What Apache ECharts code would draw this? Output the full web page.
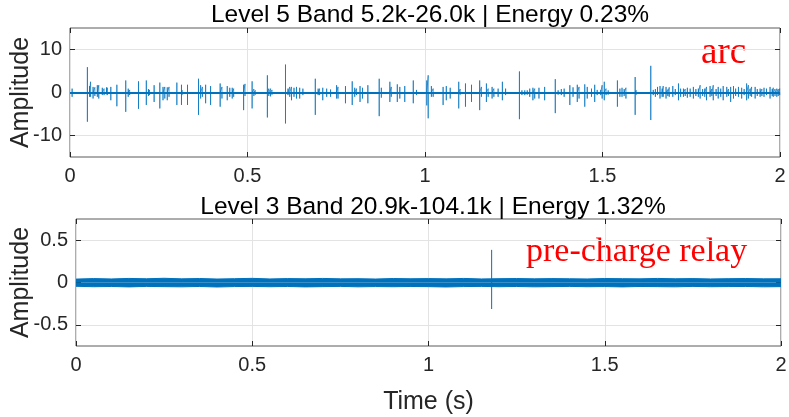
<!DOCTYPE html>
<html>
<head>
<meta charset="utf-8">
<style>
  html, body { margin: 0; padding: 0; background: #ffffff; }
  #chart { width: 789px; height: 417px; }
</style>
<script src="https://cdn.jsdelivr.net/npm/echarts@6/dist/echarts.min.js"></script>
</head>
<body>
<div id="chart"></div>
<script>
// top panel: level 5 spikes (time in s, max and min amplitude of each burst)
const spikeT = [0.006, 0.049, 0.055, 0.058, 0.065, 0.070, 0.077, 0.081, 0.091, 0.096,
  0.103, 0.105, 0.115, 0.132, 0.157, 0.164, 0.168, 0.193, 0.215, 0.221,
  0.224, 0.237, 0.253, 0.262, 0.267, 0.274, 0.279, 0.301, 0.314, 0.316,
  0.331, 0.362, 0.368, 0.373, 0.382, 0.396, 0.423, 0.428, 0.443, 0.450,
  0.457, 0.461, 0.489, 0.493, 0.513, 0.518, 0.522, 0.556, 0.560, 0.565,
  0.569, 0.607, 0.614, 0.619, 0.624, 0.631, 0.638, 0.647, 0.656, 0.691,
  0.699, 0.703, 0.712, 0.723, 0.734, 0.751, 0.755, 0.776, 0.795, 0.802,
  0.807, 0.817, 0.824, 0.839, 0.871, 0.877, 0.901, 0.905, 0.922, 0.929,
  0.943, 0.967, 0.976, 1.005, 1.009, 1.018, 1.023, 1.051, 1.060, 1.071,
  1.095, 1.099, 1.114, 1.131, 1.154, 1.159, 1.173, 1.178, 1.189, 1.194,
  1.206, 1.218, 1.227, 1.266, 1.273, 1.281, 1.288, 1.295, 1.304, 1.309,
  1.321, 1.337, 1.367, 1.375, 1.384, 1.392, 1.408, 1.417, 1.429, 1.434,
  1.450, 1.457, 1.469, 1.478, 1.485, 1.495, 1.499, 1.505, 1.510, 1.516,
  1.542, 1.549, 1.555, 1.561, 1.566, 1.592, 1.595, 1.636, 1.643, 1.649,
  1.655, 1.662, 1.668, 1.671, 1.679, 1.684, 1.688, 1.698, 1.705, 1.714,
  1.720, 1.728, 1.733, 1.739, 1.747, 1.756, 1.763, 1.770, 1.775, 1.782,
  1.788, 1.793, 1.803, 1.808, 1.812, 1.820, 1.826, 1.833, 1.840, 1.850,
  1.855, 1.861, 1.869, 1.875, 1.883, 1.892, 1.899, 1.906, 1.911, 1.916,
  1.920, 1.930, 1.936, 1.944, 1.949, 1.955, 1.962, 1.972, 1.978, 1.981,
  1.986, 1.991, 1.995, 1.999];
const spikeHi = [0.9, 5.9, 1.5, 2.5, 1.3, 1.2, 1.7, 1.7, 1.1, 0.9,
  1.2, 1.1, 1.3, 1.8, 2.8, 0.9, 0.6, 2.6, 2.8, 0.8,
  0.6, 1.7, 2.3, 1.3, 1.3, 1.2, 1.3, 2.3, 1.8, 0.5,
  1.8, 3.2, 1.7, 1.3, 1.8, 1.5, 2.1, 1.3, 1.5, 1.1,
  1.1, 0.9, 1.8, 2.0, 2.6, 0.8, 0.5, 4.0, 0.9, 0.9,
  0.6, 6.5, 0.9, 1.3, 1.3, 1.1, 1.3, 1.1, 0.9, 3.2,
  0.9, 0.9, 1.1, 0.9, 0.7, 1.7, 1.3, 1.5, 2.6, 1.1,
  0.9, 1.5, 1.1, 1.7, 3.2, 1.1, 2.5, 1.3, 1.9, 1.3,
  1.5, 2.8, 0.6, 2.8, 4.0, 1.5, 0.9, 1.3, 1.5, 1.1,
  2.5, 0.8, 2.1, 1.8, 2.8, 1.3, 2.1, 0.9, 1.3, 0.9,
  0.9, 2.5, 0.9, 4.9, 0.5, 0.5, 0.5, 0.9, 1.1, 0.9,
  1.1, 1.3, 3.1, 0.5, 0.8, 0.9, 1.7, 1.2, 1.8, 1.3,
  1.9, 1.3, 0.9, 1.8, 0.6, 0.6, 1.7, 2.5, 0.9, 0.5,
  2.8, 0.9, 1.1, 0.8, 1.1, 3.6, 0.5, 6.2, 0.6, 0.8,
  1.3, 1.5, 0.9, 1.5, 1.3, 0.7, 1.2, 1.5, 0.8, 2.1,
  0.9, 0.9, 0.8, 1.1, 0.9, 1.3, 0.8, 0.9, 1.7, 0.8,
  0.9, 1.3, 1.5, 0.8, 1.7, 0.8, 1.3, 0.9, 1.5, 1.3,
  0.8, 1.3, 1.5, 0.9, 1.3, 1.1, 0.8, 2.1, 1.7, 0.9,
  1.3, 1.3, 0.8, 0.9, 0.8, 1.1, 0.9, 1.3, 0.8, 1.1,
  0.8, 0.9, 0.8, 0.9];
const spikeLo = [-1.0, -6.8, -1.0, -1.0, -1.4, -0.8, -1.0, -1.4, -0.6, -0.6,
  -0.4, -0.6, -1.8, -3.2, -4.5, -1.0, -0.6, -3.8, -2.9, -0.8,
  -0.6, -2.2, -3.7, -1.8, -1.4, -1.8, -1.0, -2.9, -2.9, -0.5,
  -2.9, -5.2, -1.4, -1.0, -2.5, -2.9, -3.3, -1.4, -1.8, -1.0,
  -1.4, -1.0, -4.1, -0.8, -3.7, -0.8, -0.5, -5.8, -0.8, -0.9,
  -0.5, -7.2, -0.6, -1.0, -1.8, -1.0, -1.4, -1.4, -0.6, -5.2,
  -0.6, -0.6, -1.8, -1.0, -1.0, -1.4, -1.4, -2.5, -2.9, -1.0,
  -0.6, -2.2, -1.4, -2.5, -5.5, -1.2, -2.2, -1.0, -2.2, -1.4,
  -2.2, -2.5, -0.6, -3.0, -6.0, -1.0, -1.0, -2.9, -1.8, -1.4,
  -3.7, -0.5, -3.3, -2.2, -4.1, -1.0, -2.2, -1.0, -1.4, -1.0,
  -1.0, -1.8, -0.6, -6.2, -0.6, -0.6, -0.5, -1.0, -1.8, -1.4,
  -1.4, -1.8, -4.8, -0.5, -0.6, -1.0, -2.9, -1.0, -2.2, -1.4,
  -3.3, -1.4, -1.0, -2.2, -0.6, -0.6, -1.4, -1.8, -0.6, -0.5,
  -3.3, -1.0, -1.0, -0.8, -1.4, -5.2, -0.5, -6.4, -0.6, -1.0,
  -0.6, -1.4, -1.0, -1.0, -1.4, -0.8, -1.0, -1.0, -0.6, -1.8,
  -1.0, -1.0, -0.8, -1.2, -1.0, -1.4, -0.8, -1.0, -1.4, -0.8,
  -1.0, -1.8, -1.0, -0.8, -1.8, -0.8, -1.4, -1.0, -1.8, -1.0,
  -0.8, -2.2, -1.4, -0.8, -1.0, -1.4, -0.6, -1.8, -1.4, -0.8,
  -1.0, -1.4, -0.8, -1.0, -0.8, -1.0, -0.6, -1.4, -0.8, -1.0,
  -0.8, -1.0, -0.8, -0.6];

// bottom panel: level 3 noise envelope + one relay transient
const noiseT = [0, 0.05, 0.1, 0.15, 0.2, 0.25, 0.3, 0.35, 0.4, 0.45,
  0.5, 0.55, 0.6, 0.65, 0.7, 0.75, 0.8, 0.85, 0.9, 0.95,
  1.0, 1.05, 1.1, 1.15, 1.2, 1.25, 1.3, 1.35, 1.4, 1.45,
  1.5, 1.55, 1.6, 1.65, 1.7, 1.75, 1.8, 1.85, 1.9, 1.95, 2.0];
const noiseHi = [0.040, 0.046, 0.042, 0.048, 0.044, 0.050, 0.043, 0.047, 0.041, 0.045,
  0.049, 0.042, 0.046, 0.044, 0.048, 0.043, 0.045, 0.041, 0.047, 0.044,
  0.046, 0.043, 0.048, 0.042, 0.045, 0.047, 0.043, 0.046, 0.044, 0.042,
  0.047, 0.045, 0.043, 0.048, 0.044, 0.046, 0.042, 0.045, 0.047, 0.043, 0.044];
const noiseLo = [-0.045, -0.050, -0.047, -0.052, -0.046, -0.049, -0.051, -0.047, -0.053, -0.048,
  -0.046, -0.050, -0.047, -0.052, -0.049, -0.046, -0.051, -0.048, -0.050, -0.047,
  -0.049, -0.053, -0.048, -0.046, -0.050, -0.047, -0.051, -0.049, -0.046, -0.050,
  -0.048, -0.052, -0.047, -0.049, -0.051, -0.046, -0.050, -0.048, -0.047, -0.051, -0.049];
const relayT = 1.179;
const relayHi = 0.385;
const relayLo = -0.313;

const topYTicks = [-10, 0, 10];
const botYTicks = [-0.5, 0, 0.5];

const blue = '#0072BD';
const axisColor = '#262626';
const font = 'Liberation Sans, Arial, Helvetica, sans-serif';
const serif = 'Liberation Serif, Times New Roman, serif';

let topData = [];
spikeT.forEach((t, i) => {
  topData.push([t, 0], [t, spikeHi[i]], [t, spikeLo[i]], [t, 0]);
});
let relayData = [[relayT, 0], [relayT, relayHi], [relayT, relayLo], [relayT, 0]];
let upperData = noiseT.map((t, i) => [t, noiseHi[i]]);
let lowerData = noiseT.map((t, i) => [t, noiseLo[i]]);

function xAx(grid, pos, labels) {
  return {
    type: 'value', gridIndex: grid, position: pos, min: 0, max: 2, interval: 0.5,
    axisLine: { show: false, onZero: false },
    axisTick: { show: true, inside: true, length: 5, lineStyle: { color: axisColor } },
    axisLabel: { show: labels, color: axisColor, fontSize: 20, fontFamily: font, margin: 9 },
    splitLine: { show: labels, lineStyle: { color: '#e3e3e3' } },
  };
}
function yAx(grid, pos, min, max, ticks, labels) {
  return {
    type: 'value', gridIndex: grid, position: pos, min: min, max: max,
    axisLine: { show: false, onZero: false },
    axisTick: { show: true, inside: true, length: 5, customValues: ticks, lineStyle: { color: axisColor } },
    axisLabel: { show: labels, customValues: ticks, color: axisColor, fontSize: 20, fontFamily: font, margin: 8 },
    splitLine: { show: labels, lineStyle: { color: '#e3e3e3' } },
    name: labels ? 'Amplitude' : '',
    nameLocation: 'middle',
    nameMoveOverlap: false,
    nameGap: grid === 0 ? 36 : 42,
    nameTextStyle: { color: axisColor, fontSize: 25, fontFamily: font },
  };
}

let chart = echarts.init(document.getElementById('chart'));
let option = {
  animation: false,
  backgroundColor: '#ffffff',
  title: [
    { text: 'Level 5 Band 5.2k-26.0k | Energy 0.23%', left: 425, top: -2, textAlign: 'center',
      textStyle: { fontSize: 24.5, fontWeight: 'normal', color: '#000', fontFamily: font } },
    { text: 'Level 3 Band 20.9k-104.1k | Energy 1.32%', left: 428, top: 190, textAlign: 'center',
      textStyle: { fontSize: 24.5, fontWeight: 'normal', color: '#000', fontFamily: font } },
  ],
  graphic: [
    { type: 'text', left: 701, top: 35, style: { text: 'arc', fill: '#ff0000', fontSize: 37, fontFamily: serif } },
    { type: 'text', left: 526, top: 235, style: { text: 'pre-charge relay', fill: '#ff0000', fontSize: 34, fontFamily: serif } },
  ],
  grid: [
    { left: 70, top: 28, width: 710, height: 129, outerBoundsMode: 'none', containLabel: false,
      show: true, borderColor: '#5a5a5a', borderWidth: 1, backgroundColor: '#fff' },
    { left: 76, top: 219, width: 705, height: 127, outerBoundsMode: 'none', containLabel: false,
      show: true, borderColor: '#5a5a5a', borderWidth: 1, backgroundColor: '#fff' },
  ],
  xAxis: [
    xAx(0, 'bottom', true),
    xAx(0, 'top', false),
    Object.assign(xAx(1, 'bottom', true), {
      name: 'Time (s)', nameLocation: 'middle', nameGap: 44, nameMoveOverlap: false,
      nameTextStyle: { color: axisColor, fontSize: 25, fontFamily: font },
    }),
    xAx(1, 'top', false),
  ],
  yAxis: [
    yAx(0, 'left', -15, 15, topYTicks, true),
    yAx(0, 'right', -15, 15, topYTicks, false),
    yAx(1, 'left', -0.75, 0.75, botYTicks, true),
    yAx(1, 'right', -0.75, 0.75, botYTicks, false),
  ],
  series: [
    {
      type: 'line', xAxisIndex: 0, yAxisIndex: 0, data: topData, symbol: 'none',
      lineStyle: { color: blue, width: 1, opacity: 0.7 },
      markLine: { silent: true, symbol: 'none', label: { show: false },
        lineStyle: { color: blue, width: 2, type: 'solid' }, data: [{ yAxis: 0 }] },
    },
    {
      type: 'line', xAxisIndex: 2, yAxisIndex: 2, data: upperData, symbol: 'none',
      lineStyle: { color: blue, width: 1 }, areaStyle: { color: blue, opacity: 1 },
    },
    {
      type: 'line', xAxisIndex: 2, yAxisIndex: 2, data: lowerData, symbol: 'none',
      lineStyle: { color: blue, width: 1 }, areaStyle: { color: blue, opacity: 1 },
    },
    {
      type: 'line', xAxisIndex: 2, yAxisIndex: 2, data: relayData, symbol: 'none',
      lineStyle: { color: blue, width: 1, opacity: 0.7 },
    },
  ],
};
chart.setOption(option);
</script>
</body>
</html>
